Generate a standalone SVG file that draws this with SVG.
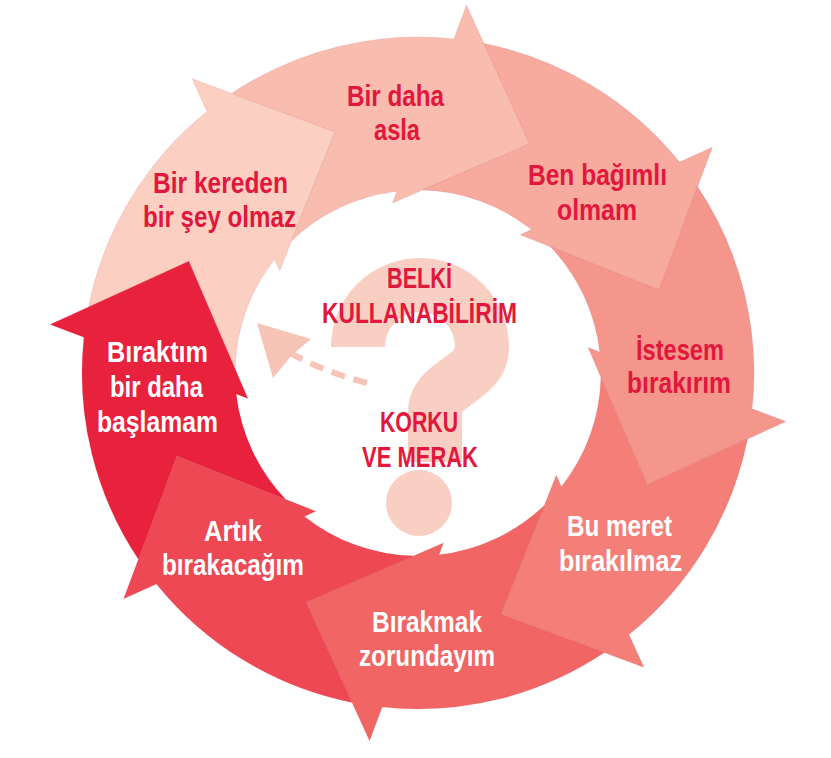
<svg xmlns="http://www.w3.org/2000/svg" width="831" height="758" viewBox="0 0 831 758">
<defs>
<path id="seg" d="M114.85,-142.48 L228.21,-113.78 L252.86,-221.26 A336,336 0 0 1 335.90,-8.09 L371,0 L241.82,80.91 L165.34,-47.41 L177.48,-44.61 A183,183 0 0 0 114.85,-142.48 Z"/>
</defs>
<style>
.lbl{font-family:"Liberation Sans Narrow","Liberation Sans",Arial,sans-serif;font-weight:700;font-size:30px;text-anchor:middle;}
.red{fill:#e2173c}
.wht{fill:#ffffff}
.shape{stroke:#c8283c;stroke-opacity:0.12;stroke-width:1}
.qm{fill:none;stroke:#f9cfc3;stroke-width:54}
</style>
<rect width="831" height="758" fill="#ffffff"/>

<g id="node-bir-kereden">
<use href="#seg" class="shape" fill="#fbd0c3" transform="translate(418,373) rotate(232.5)"/>
<text class="lbl red" x="220.5" y="193" textLength="135" lengthAdjust="spacingAndGlyphs">Bir kereden</text>
<text class="lbl red" x="219.5" y="227" textLength="153" lengthAdjust="spacingAndGlyphs">bir şey olmaz</text>
</g>
<g id="node-bir-daha-asla">
<use href="#seg" class="shape" fill="#f9bdb0" transform="translate(418,373) rotate(277.5)"/>
<text class="lbl red" x="395.5" y="106" textLength="97" lengthAdjust="spacingAndGlyphs">Bir daha</text>
<text class="lbl red" x="397" y="140" textLength="46" lengthAdjust="spacingAndGlyphs">asla</text>
</g>
<g id="node-ben-bagimli">
<use href="#seg" class="shape" fill="#f7aa9e" transform="translate(418,373) rotate(322.5)"/>
<text class="lbl red" x="597.5" y="185" textLength="139" lengthAdjust="spacingAndGlyphs">Ben bağımlı</text>
<text class="lbl red" x="597" y="220" textLength="80" lengthAdjust="spacingAndGlyphs">olmam</text>
</g>
<g id="node-istesem">
<use href="#seg" class="shape" fill="#f5968c" transform="translate(418,373) rotate(7.5)"/>
<text class="lbl red" x="680" y="360" textLength="88" lengthAdjust="spacingAndGlyphs">İstesem</text>
<text class="lbl red" x="679" y="393" textLength="104" lengthAdjust="spacingAndGlyphs">bırakırım</text>
</g>
<g id="node-bu-meret">
<use href="#seg" class="shape" fill="#f37f78" transform="translate(418,373) rotate(52.5)"/>
<text class="lbl wht" x="619.5" y="536" textLength="105" lengthAdjust="spacingAndGlyphs">Bu meret</text>
<text class="lbl wht" x="620.5" y="571" textLength="123" lengthAdjust="spacingAndGlyphs">bırakılmaz</text>
</g>
<g id="node-birakmak">
<use href="#seg" class="shape" fill="#f16564" transform="translate(418,373) rotate(97.5)"/>
<text class="lbl wht" x="427" y="632" textLength="110" lengthAdjust="spacingAndGlyphs">Bırakmak</text>
<text class="lbl wht" x="427" y="666" textLength="136" lengthAdjust="spacingAndGlyphs">zorundayım</text>
</g>
<g id="node-artik">
<use href="#seg" class="shape" fill="#ee4854" transform="translate(418,373) rotate(142.5)"/>
<text class="lbl wht" x="233" y="541" textLength="58" lengthAdjust="spacingAndGlyphs">Artık</text>
<text class="lbl wht" x="233" y="575" textLength="142" lengthAdjust="spacingAndGlyphs">bırakacağım</text>
</g>
<g id="node-biraktim">
<use href="#seg" class="shape" fill="#e8213c" transform="translate(418,373) rotate(187.5)"/>
<text class="lbl wht" x="157.5" y="362" textLength="101" lengthAdjust="spacingAndGlyphs">Bıraktım</text>
<text class="lbl wht" x="156.5" y="397" textLength="93" lengthAdjust="spacingAndGlyphs">bir daha</text>
<text class="lbl wht" x="157.5" y="432" textLength="121" lengthAdjust="spacingAndGlyphs">başlamam</text>
</g>

<g id="node-center">
<path class="qm" d="M358,347 A62,62 0 0 1 482,347 C482,380 435,382 435,412 L435,462"/>
<circle cx="419" cy="503" r="33" fill="#f9cfc3"/>
</g>

<g id="connectors">
<path d="M367,383 Q325,372 292,354" fill="none" stroke="#f8c4b7" stroke-width="6" stroke-dasharray="14 9"/>
<polygon points="257,323 311,339 292,355 273,378" fill="#f8c4b7"/>
</g>

<g id="node-center-text">
<text class="lbl red" x="419.5" y="288" textLength="65" lengthAdjust="spacingAndGlyphs">BELKİ</text>
<text class="lbl red" x="419.5" y="323" textLength="195" lengthAdjust="spacingAndGlyphs">KULLANABİLİRİM</text>
<text class="lbl red" x="419" y="432" textLength="78" lengthAdjust="spacingAndGlyphs">KORKU</text>
<text class="lbl red" x="420" y="467" textLength="116" lengthAdjust="spacingAndGlyphs">VE MERAK</text>
</g>
</svg>
